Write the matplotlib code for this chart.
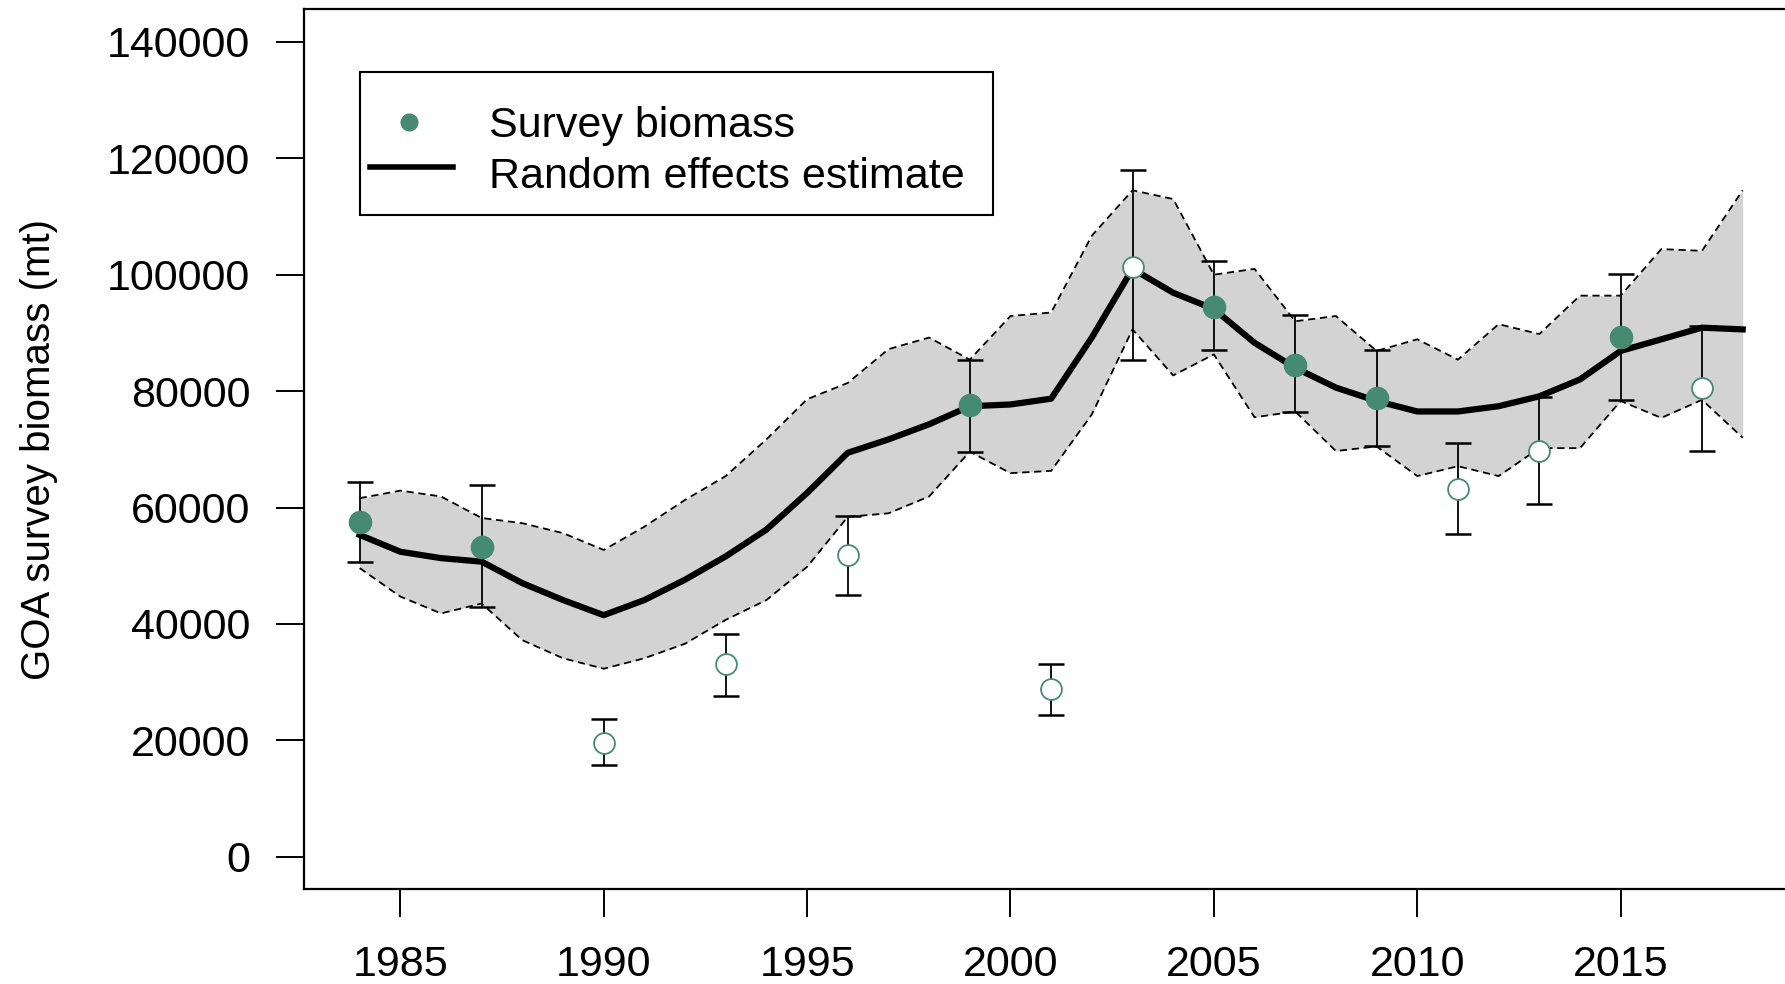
import matplotlib
matplotlib.use('Agg')
import matplotlib.pyplot as plt
from matplotlib.lines import Line2D
from matplotlib.patches import Rectangle

plt.rcParams['font.family'] = ['Liberation Sans', 'DejaVu Sans']

# ---------------- data ----------------
survey_years = [1984, 1987, 1990, 1993, 1996, 1999, 2001, 2003, 2005, 2007, 2009, 2011, 2013, 2015, 2017]
survey_biomass = [57450, 53140, 19600, 33100, 51800, 77650, 28800, 101400, 94500, 84500, 78800, 63200, 69700, 89300, 80600]
survey_lower = [50600, 42900, 15700, 27600, 44900, 69600, 24400, 85300, 87100, 76400, 70600, 55400, 60600, 78400, 69700]
survey_upper = [64300, 63900, 23600, 38200, 58600, 85300, 33100, 118000, 102400, 93100, 87000, 71000, 79000, 100200, 91200]
survey_filled = [True, True, False, False, False, True, False, False, True, True, True, False, False, True, False]

est_years = list(range(1984, 2019))
est_biomass = [55300, 52400, 51300, 50700, 47000, 44100, 41500, 44100, 47600, 51600,
               56200, 62500, 69400, 71700, 74300, 77400, 77700, 78700, 89200, 101000,
               96900, 94100, 88300, 84000, 80600, 78300, 76500, 76500, 77400, 79100,
               82000, 86900, 88900, 90900, 90600]
est_upper = [61600, 62900, 61900, 58200, 57300, 55600, 52700, 56700, 61300, 65400,
             71700, 78600, 81400, 87200, 89200, 85400, 92900, 93500, 106700, 114500,
             113000, 100000, 101000, 92000, 92900, 86900, 88900, 85400, 91500, 89800,
             96400, 96400, 104400, 104100, 114500]
est_lower = [49600, 44700, 41800, 43500, 37200, 34100, 32300, 34100, 36600, 40700,
             44100, 49800, 58400, 59000, 61900, 69600, 65900, 66300, 76000, 90600,
             82700, 86300, 75500, 76500, 69700, 70500, 65400, 67100, 65400, 70200,
             70200, 78300, 75400, 78500, 72000]

x_ticks = [1985, 1990, 1995, 2000, 2005, 2010, 2015]
y_ticks = [0, 20000, 40000, 60000, 80000, 100000, 120000, 140000]
y_label = "GOA survey biomass (mt)"
legend_labels = ["Survey biomass", "Random effects estimate"]

GREEN = '#458B74'
W, H = 1785, 984

fig = plt.figure(figsize=(W / 100, H / 100), dpi=100)
ax = fig.add_axes([304.3 / W, 1 - 889.3 / H, (1798 - 304.3) / W, 880 / H])

# confidence band
ax.fill_between(est_years, est_lower, est_upper, color='#d3d3d3', lw=0, zorder=1)
ax.plot(est_years, est_upper, color='black', lw=1.3, ls=(0, (4, 2.6)), zorder=2)
ax.plot(est_years, est_lower, color='black', lw=1.3, ls=(0, (4, 2.6)), zorder=2)

# survey error bars
yerr_lo = [b - l for b, l in zip(survey_biomass, survey_lower)]
yerr_hi = [u - b for b, u in zip(survey_biomass, survey_upper)]
ax.errorbar(survey_years, survey_biomass, yerr=[yerr_lo, yerr_hi], fmt='none',
            ecolor='black', elinewidth=1.3, capsize=9.7, capthick=1.8, zorder=3)

# random effects estimate
ax.plot(est_years, est_biomass, color='black', lw=4.5, zorder=4)

# survey points
fx = [y for y, f in zip(survey_years, survey_filled) if f]
fy = [b for b, f in zip(survey_biomass, survey_filled) if f]
ox = [y for y, f in zip(survey_years, survey_filled) if not f]
oy = [b for b, f in zip(survey_biomass, survey_filled) if not f]
ax.plot(fx, fy, 'o', color=GREEN, ms=16, mec=GREEN, zorder=5)
ax.plot(ox, oy, 'o', mfc='white', mec=GREEN, mew=1.3, ms=15, zorder=5)

ax.set_xlim(1982.64, 2019.36)
ax.set_ylim(-5600, 145600)
ax.set_xticks(x_ticks)
ax.set_xticklabels([str(t) for t in x_ticks])
ax.set_yticks(y_ticks)
ax.set_yticklabels([str(t) for t in y_ticks])
ax.tick_params(axis='both', direction='out', length=20, width=1.4, labelsize=31, colors='black')
ax.tick_params(axis='x', pad=20)
ax.tick_params(axis='y', pad=19)
for s in ax.spines.values():
    s.set_linewidth(1.6)
ax.set_ylabel(y_label, fontsize=29)
ax.yaxis.set_label_coords(-0.165, 0.5)

# legend (R-style box)
def fxp(px):
    return px / W

def fyp(py):
    return 1 - py / H

fig.patches.append(Rectangle((fxp(359.5), fyp(215)), fxp(992.6) - fxp(359.5), fyp(71.7) - fyp(215),
                             transform=fig.transFigure, fill=True, facecolor='white',
                             edgecolor='black', lw=1.5, zorder=10))
fig.lines.append(Line2D([fxp(409.4)], [fyp(121.7)], marker='o', color=GREEN, ms=12,
                        transform=fig.transFigure, zorder=11))
fig.lines.append(Line2D([fxp(370), fxp(452.7)], [fyp(166.7), fyp(166.7)], color='black', lw=4,
                        transform=fig.transFigure, zorder=11))
fig.text(fxp(489), fyp(136.5), legend_labels[0], fontsize=31, va='baseline', ha='left', zorder=12)
fig.text(fxp(489), fyp(188), legend_labels[1], fontsize=31, va='baseline', ha='left', zorder=12)

fig.savefig('out.png', dpi=100)
